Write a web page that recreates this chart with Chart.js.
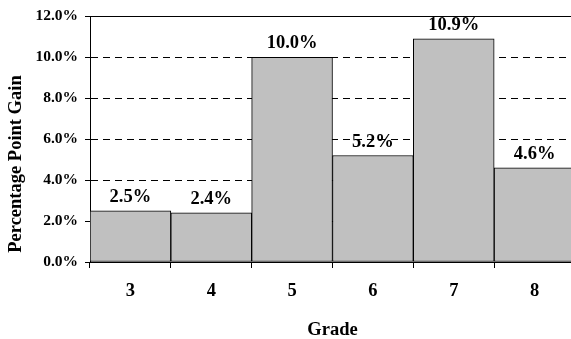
<!DOCTYPE html>
<html lang="en">
<head>
    <meta charset="UTF-8">
    <title>Percentage Point Gain by Grade</title>
    <script src="https://cdn.jsdelivr.net/npm/chart.js"></script>
    <style>
        html, body {
            margin: 0;
            padding: 0;
            background: #fff;
            overflow: hidden;
        }
        canvas {
            display: block;
        }
    </style>
</head>
<body>
    <canvas id="gainChart" width="580" height="339"></canvas>

    <script>
        // values
        const grades = ['3', '4', '5', '6', '7', '8'];
        const gains = [2.5, 2.4, 10.0, 5.2, 10.9, 4.6];
        const yTicks = [0, 2, 4, 6, 8, 10, 12];

        const serif = "'Liberation Serif', 'Times New Roman', serif";

        // labels above each bar, placed from the bar elements
        const barLabels = {
            id: 'barLabels',
            afterDatasetsDraw(chart) {
                const ctx = chart.ctx;
                const meta = chart.getDatasetMeta(0);
                ctx.save();
                ctx.font = 'bold 18.5px ' + serif;
                ctx.fillStyle = '#000';
                ctx.textAlign = 'center';
                ctx.textBaseline = 'alphabetic';
                meta.data.forEach((bar, i) => {
                    ctx.fillText(gains[i].toFixed(1) + '%', bar.x, bar.y - 9);
                });
                ctx.restore();
            }
        };

        new Chart(document.getElementById('gainChart'), {
            type: 'bar',
            data: {
                labels: grades,
                datasets: [{
                    data: gains,
                    backgroundColor: '#c0c0c0',
                    borderColor: '#000',
                    borderWidth: 1,
                    borderSkipped: false,
                    categoryPercentage: 1.0,
                    barPercentage: 1.0
                }]
            },
            options: {
                responsive: false,
                animation: false,
                layout: {
                    padding: { top: 15, right: 5, bottom: 0, left: 0 }
                },
                plugins: {
                    legend: { display: false },
                    tooltip: { enabled: false }
                },
                scales: {
                    x: {
                        type: 'category',
                        position: 'bottom',
                        grid: {
                            offset: true,
                            drawOnChartArea: false,
                            drawTicks: true,
                            tickLength: 6,
                            tickColor: '#000',
                            color: '#000'
                        },
                        border: { display: true, color: '#000', width: 1 },
                        ticks: {
                            color: '#000',
                            padding: 12,
                            font: { family: serif, size: 18.5, weight: 'bold' }
                        },
                        title: {
                            display: true,
                            text: 'Grade',
                            color: '#000',
                            padding: { top: 0, bottom: 0 },
                            font: { family: serif, size: 18.5, weight: 'bold', lineHeight: 1 }
                        },
                        afterFit(scale) { scale.height = 77; }
                    },
                    // only draws the solid line along the top of the plot
                    xTop: {
                        type: 'category',
                        position: 'top',
                        labels: grades,
                        grid: { display: false },
                        ticks: { display: false },
                        border: { display: true, color: '#000', width: 1 },
                        afterFit(scale) { scale.height = 0; }
                    },
                    y: {
                        min: 0,
                        max: 12,
                        afterBuildTicks(scale) {
                            scale.ticks = yTicks.map(v => ({ value: v }));
                        },
                        grid: {
                            color: ctx => (ctx.tick && ctx.tick.value > 0 && ctx.tick.value < 12) ? '#000' : 'rgba(0,0,0,0)',
                            lineWidth: 1,
                            drawTicks: true,
                            tickLength: 5,
                            tickColor: '#000'
                        },
                        border: { display: true, color: '#000', width: 1, dash: [7, 5] },
                        ticks: {
                            color: '#000',
                            padding: 7,
                            font: { family: serif, size: 15.5, weight: 'bold' },
                            callback: v => v.toFixed(1) + '%'
                        },
                        title: {
                            display: true,
                            text: '  Percentage Point Gain',
                            align: 'start',
                            color: '#000',
                            padding: { top: 5, bottom: 0 },
                            font: { family: serif, size: 18.5, weight: 'bold' }
                        },
                        afterFit(scale) { scale.width = 90; }
                    }
                }
            },
            plugins: [barLabels]
        });
    </script>
</body>
</html>
